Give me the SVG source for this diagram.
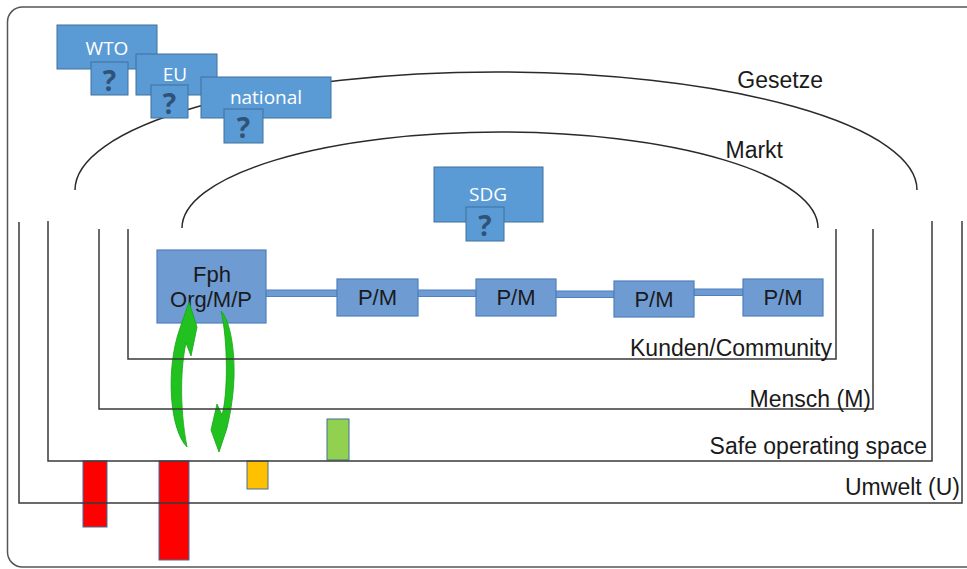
<svg xmlns="http://www.w3.org/2000/svg" width="967" height="569" viewBox="0 0 967 569">
<style>
.frame{fill:none;stroke:#555;stroke-width:1.5}
.ln{fill:none;stroke:#3a3a3a;stroke-width:1.5}
.arc{fill:none;stroke:#2a2a2a;stroke-width:1.5}
.lbl{font-family:"Liberation Sans",Arial,sans-serif;font-size:23px;fill:#1a1a1a;text-anchor:end}
.inst{fill:#5b9bd5;stroke:#41719c;stroke-width:1}
.itxt{font-family:"Open Sans","Noto Sans",sans-serif;font-size:19px;fill:#ffffff;text-anchor:middle}
.q{font-family:"Open Sans","Noto Sans",sans-serif;font-size:28px;font-weight:bold;fill:#2f5275;text-anchor:middle}
.org{fill:#6f9bd3;stroke:#4f7fbd;stroke-width:1.2}
.otxt{font-family:"Liberation Sans",Arial,sans-serif;font-size:22px;fill:#1a1a1a;text-anchor:middle}
.bar{fill:#6f9bd3;stroke:#4f7fbd;stroke-width:1}
.cyc{fill:#21c21f;stroke:#17a317;stroke-width:0.8}
.ind{stroke:#41719c;stroke-width:1}
</style>

<rect class="frame" x="7.5" y="7" width="975" height="560" rx="15"/>

<g id="arcs">
<path class="arc" d="M75,190 A421,118 0 0 1 917,190"/>
<path class="arc" d="M182,228 A318,96 0 0 1 818,228"/>
<text class="lbl" x="823" y="88">Gesetze</text>
<text class="lbl" x="783" y="158">Markt</text>
</g>

<g id="indicators">
<rect class="ind" x="83" y="461" width="24" height="66" fill="#ff0000"/>
<rect class="ind" x="159" y="461" width="30" height="99" fill="#ff0000"/>
<rect class="ind" x="247" y="461" width="21" height="28" fill="#ffc000"/>
<rect class="ind" x="327" y="419" width="22" height="41" fill="#92d050"/>
</g>

<g id="connectors">
<rect class="bar" x="266" y="290" width="71" height="6.5"/>
<rect class="bar" x="418" y="290" width="58" height="6.5"/>
<rect class="bar" x="556" y="291" width="58" height="6.5"/>
<rect class="bar" x="694" y="289" width="49" height="6.5"/>
</g>

<g id="wto">
<rect class="inst" x="57" y="25" width="100" height="44"/>
<text class="itxt" x="107" y="55">WTO</text>
<rect class="inst" x="91" y="62" width="37" height="33"/>
<text class="q" x="109.5" y="91">?</text>
</g>
<g id="eu">
<rect class="inst" x="136" y="54" width="81" height="41"/>
<text class="itxt" x="175" y="81">EU</text>
<rect class="inst" x="151" y="85" width="37" height="33"/>
<text class="q" x="169.5" y="114">?</text>
</g>
<g id="national">
<rect class="inst" x="201" y="77" width="130" height="41"/>
<text class="itxt" x="266" y="104">national</text>
<rect class="inst" x="224" y="109" width="39" height="34"/>
<text class="q" x="243.5" y="138">?</text>
</g>
<g id="sdg">
<rect class="inst" x="434" y="167" width="109" height="55"/>
<text class="itxt" x="488" y="201">SDG</text>
<rect class="inst" x="466" y="207" width="38" height="34"/>
<text class="q" x="485" y="236">?</text>
</g>

<g id="fph">
<rect class="org" x="157" y="250" width="109" height="73"/>
<text class="otxt" x="212" y="282">Fph</text>
<text class="otxt" x="211" y="307">Org/M/P</text>
</g>
<g id="pm1">
<rect class="org" x="337" y="279" width="81" height="37"/>
<text class="otxt" x="377.5" y="305">P/M</text>
</g>
<g id="pm2">
<rect class="org" x="476" y="279" width="80" height="37"/>
<text class="otxt" x="516" y="305">P/M</text>
</g>
<g id="pm3">
<rect class="org" x="614" y="281" width="80" height="36"/>
<text class="otxt" x="654" y="307">P/M</text>
</g>
<g id="pm4">
<rect class="org" x="743" y="279" width="80" height="37"/>
<text class="otxt" x="783" y="305">P/M</text>
</g>

<g id="cycle">
<path class="cyc" d="M189,302 L197,327 L191,356 L186,343 C181,365 179,405 187,447 C170,430 165,370 180,328 Z"/>
<path class="cyc" d="M221,311 C230,320 235,350 234,378 C233,400 230,415 227,428 L219,452 L211,430 L217,404 L222,415 C228,395 228,340 221,311 Z"/>
</g>

<g id="spheres">
<path class="ln" d="M19,222 V503 H962 V221"/>
<path class="ln" d="M48,221 V461 H932 V221"/>
<path class="ln" d="M99,229 V409 H873 V229"/>
<path class="ln" d="M128,229 V359 H836 V229"/>
<text class="lbl" x="960" y="495">Umwelt (U)</text>
<text class="lbl" x="927" y="454">Safe operating space</text>
<text class="lbl" x="871" y="407">Mensch (M)</text>
<text class="lbl" x="832" y="356">Kunden/Community</text>
</g>
</svg>
